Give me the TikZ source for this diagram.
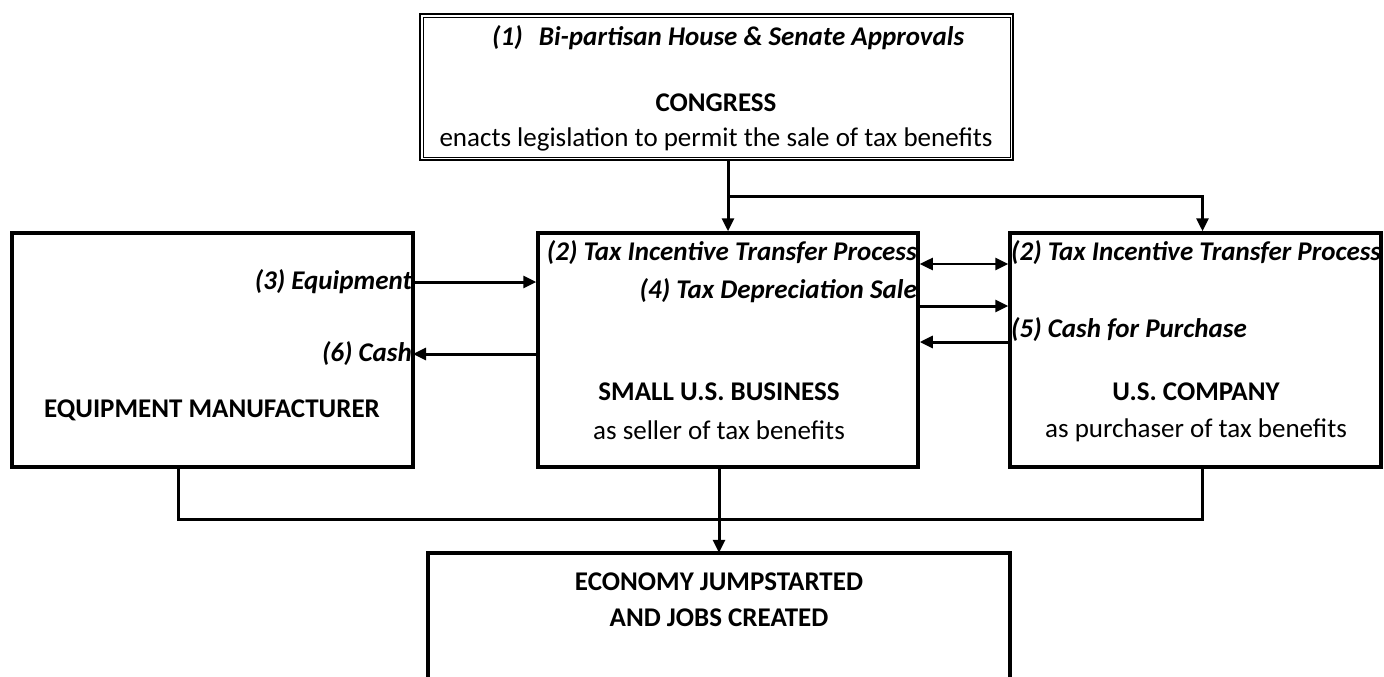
\documentclass[tikz,border=0pt]{standalone}
\usepackage{fontspec}
\setmainfont{Carlito}
\usetikzlibrary{arrows.meta}

\begin{document}
\begin{tikzpicture}[
    x=1pt, y=-1pt,
    font=\fontsize{27}{32}\selectfont,
    box/.style={draw, line width=3.5pt, inner sep=0pt},
    tag/.style={font=\fontsize{27}{32}\selectfont\bfseries\itshape, inner sep=1pt},
    title/.style={font=\fontsize{27}{32}\selectfont\bfseries, inner sep=0pt},
    link/.style={line width=3pt, -{Triangle[length=13pt,width=12pt]}},
    both/.style={line width=2.5pt, {Triangle[length=13pt,width=12pt]}-{Triangle[length=13pt,width=12pt]}},
    wire/.style={line width=3pt}
  ]
  \useasboundingbox (0,0) rectangle (1384,677);

  % the four boxes
  \node[draw, line width=2pt, minimum width=593, minimum height=146] (congress) at (716.5,87) {};
  \draw[line width=0.8pt] ([shift={(4,4)}]congress.north west) rectangle ([shift={(-4,-4)}]congress.south east);
  \node[box, minimum width=401, minimum height=234] (maker) at (212.5,350) {};
  \node[box, minimum width=380, minimum height=234] (seller) at (728,350) {};
  \node[box, minimum width=371, minimum height=234] (buyer) at (1195.5,350) {};
  \node[minimum width=582, minimum height=250] (economy) at (719,678) {};
  \draw[line width=3.5pt] (economy.south west) |- (economy.north east) -- (economy.south east);

  % congress text
  \node[tag, anchor=west] (step1) at (491,38) {(1)\hspace{0.6em}Bi-partisan House \& Senate Approvals};
  \node[title] (congresstitle) at (716,103) {CONGRESS};
  \node (congresstext) at (716,139) {enacts legislation to permit the sale of tax benefits};

  % step labels
  \node[tag, anchor=east] (step3) at (413,282) {(3) Equipment};
  \node[tag, anchor=east] (step6) at (413,354) {(6) Cash};
  \node[tag, anchor=east] (step2a) at (918,253) {(2) Tax Incentive Transfer Process};
  \node[tag, anchor=east] (step4) at (918,291) {(4) Tax Depreciation Sale};
  \node[tag, anchor=west] (step2b) at (1010,253) {(2) Tax Incentive Transfer Process};
  \node[tag, anchor=west] (step5) at (1010,330) {(5) Cash for Purchase};

  % box titles
  \node[title] (makertitle) at (212,410) {EQUIPMENT MANUFACTURER};
  \node[title] (sellertitle) at (719,392) {SMALL U.S. BUSINESS};
  \node (sellertext) at (719,430) {as seller of tax benefits};
  \node[title] (buyertitle) at (1196,392) {U.S. COMPANY};
  \node (buyertext) at (1196,430) {as purchaser of tax benefits};
  \node[title, align=center] (economytitle) at (719,600) {ECONOMY JUMPSTARTED\\[4pt]AND JOBS CREATED};

  % congress down to the seller and buyer
  \coordinate (split) at (728,196);
  \draw[link] (congress.south -| split) -- (seller.north);
  \draw[link] (split) -| ([xshift=7pt]buyer.north);

  % flows between the boxes
  \draw[link] (step3.east) -- (step3.east -| seller.west);
  \draw[link] (step6.east -| seller.west) -- (step6.east);
  \draw[both] (seller.east |- 0,264) -- (buyer.west |- 0,264);
  \draw[link] (seller.east |- 0,306) -- (buyer.west |- 0,306);
  \draw[link] (buyer.west |- 0,342) -- (seller.east |- 0,342);

  % everything feeds the economy
  \coordinate (join) at (719,519);
  \draw[wire] ([xshift=-34.5pt]maker.south) |- (join) -| ([xshift=7pt]buyer.south);
  \draw[link] (seller.south -| economy.north) -- (economy.north);
\end{tikzpicture}
\end{document}
